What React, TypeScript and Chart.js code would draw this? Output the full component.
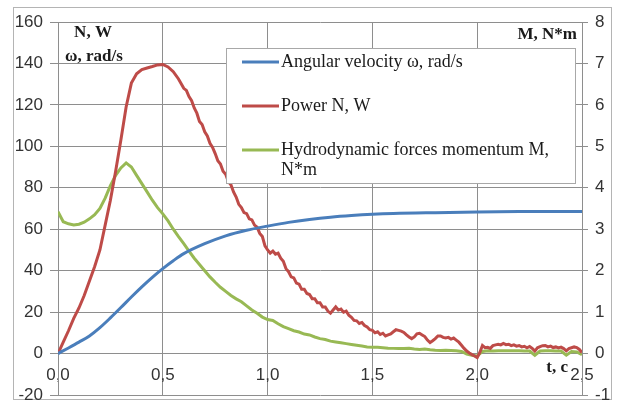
import React, { useEffect, useRef } from "react";
import { Chart, registerables } from "chart.js";
Chart.register(...registerables);

// ---------- data ----------
const xTickLabels = ["0,0", "0,5", "1,0", "1,5", "2,0", "2,5"];

const timeFine = [
  0, 0.025, 0.05, 0.075, 0.1, 0.125, 0.15, 0.175, 0.2, 0.225, 0.25, 0.275, 0.3, 0.325, 0.35, 0.375,
  0.4, 0.425, 0.45, 0.475, 0.5, 0.525, 0.55, 0.575, 0.6, 0.625, 0.65, 0.675, 0.7, 0.725, 0.75, 0.775,
  0.8, 0.825, 0.85, 0.875, 0.9, 0.925, 0.95, 0.975, 1.0, 1.025, 1.05, 1.075, 1.1, 1.125, 1.15, 1.175,
  1.2, 1.225, 1.25, 1.275, 1.3, 1.325, 1.35, 1.375, 1.4, 1.425, 1.45, 1.475, 1.5, 1.525, 1.55, 1.575,
  1.6, 1.625, 1.65, 1.675, 1.7, 1.725, 1.75, 1.775, 1.8, 1.825, 1.85, 1.875, 1.9, 1.925, 1.95, 1.975,
  2.0, 2.025, 2.05, 2.075, 2.1, 2.125, 2.15, 2.175, 2.2, 2.225, 2.25, 2.275, 2.3, 2.325, 2.35, 2.375,
  2.4, 2.425, 2.45, 2.475, 2.5,
];

const timePower = [
  0, 0.025, 0.05, 0.075, 0.1, 0.125, 0.15, 0.175, 0.2, 0.225, 0.25, 0.275, 0.3, 0.325, 0.35, 0.375,
  0.4, 0.425, 0.45, 0.475, 0.5, 0.525, 0.55, 0.575,
  0.6, 0.6125, 0.625, 0.6375, 0.65, 0.6625, 0.675, 0.6875, 0.7, 0.7125, 0.725, 0.7375, 0.75, 0.7625, 0.775, 0.7875,
  0.8, 0.8125, 0.825, 0.8375, 0.85, 0.8625, 0.875, 0.8875, 0.9, 0.9125, 0.925, 0.9375, 0.95, 0.9625, 0.975, 0.9875,
  1.0, 1.0125, 1.025, 1.0375, 1.05, 1.0625, 1.075, 1.0875, 1.1, 1.1125, 1.125, 1.1375, 1.15, 1.1625, 1.175, 1.1875,
  1.2, 1.2125, 1.225, 1.2375, 1.25, 1.2625, 1.275, 1.2875, 1.3, 1.3125, 1.325, 1.3375, 1.35, 1.3625, 1.375, 1.3875,
  1.4, 1.4125, 1.425, 1.4375, 1.45, 1.4625, 1.475, 1.4875, 1.5, 1.5125, 1.525, 1.5375, 1.55, 1.5625, 1.575, 1.5875,
  1.6, 1.6125, 1.625, 1.6375, 1.65, 1.6625, 1.675, 1.6875, 1.7, 1.7125, 1.725, 1.7375, 1.75, 1.7625, 1.775, 1.7875,
  1.8, 1.8125, 1.825, 1.8375, 1.85, 1.8625, 1.875, 1.8875, 1.9, 1.9125, 1.925, 1.9375, 1.95, 1.9625, 1.975, 1.9875,
  2.0, 2.0125, 2.025, 2.0375, 2.05, 2.0625, 2.075, 2.0875, 2.1, 2.1125, 2.125, 2.1375, 2.15, 2.1625, 2.175, 2.1875,
  2.2, 2.2125, 2.225, 2.2375, 2.25, 2.2625, 2.275, 2.2875, 2.3, 2.3125, 2.325, 2.3375, 2.35, 2.3625, 2.375, 2.3875,
  2.4, 2.4125, 2.425, 2.4375, 2.45, 2.4625, 2.475, 2.4875, 2.5,
];

const powerN = [
  0, 5.5, 11, 17, 22, 28, 35, 42, 50, 62, 74, 88, 103, 119, 130.5, 135,
  137, 137.8, 138.5, 139.3, 139.5, 138.3, 136, 132.5,
  128, 127, 124, 122, 118.5, 116, 112, 110.5, 107, 105, 101.5, 99.5, 96.5, 93, 91.5, 88,
  86.5, 83, 81.5, 78, 75.5, 72, 70.5, 68, 67.5, 65, 64.5, 62, 61, 58, 56.5, 52,
  50, 48.5, 49.5, 48, 48.5, 46, 44.5, 41, 39.5, 37, 36.5, 34, 33.5, 31, 31, 29,
  28.5, 26.5, 26.5, 24.5, 24.5, 22.5, 22.5, 20.5, 19.5, 21, 22.5, 21, 21.5, 20, 20.5, 18.5,
  17.5, 16, 15.8, 14.5, 15, 13.5, 12.8, 11.5, 11.2, 10, 10.5, 9.2, 9.8, 8.5, 9, 9.5,
  10.5, 11.5, 11.2, 10.8, 10.2, 9, 8, 7.2, 8, 9.5, 9.8, 9, 8.2, 6.5, 5.3, 6.2,
  7.2, 8.5, 8.5, 7.8, 7.5, 7.8, 7, 7.5, 6.5, 5.5, 4, 2.5, 1.2, 0.3, -0.5, -1.2,
  -2, 0.5, 3.9, 2.8, 3, 2.5, 3.8, 4.2, 4.5, 4.2, 4.9, 4.3, 4.5, 3.8, 4.2, 3.6,
  3.9, 3.2, 3.5, 2.8, 3.4, 2.5, 1.2, 2.8, 3.3, 3.8, 3.9, 3.2, 3.6, 2.9, 3.2, 2.7,
  3.1, 2.4, 1.3, 2.4, 2.8, 3.2, 2.9, 2, 0.5,
];

const momentM = [
  3.42, 3.18, 3.13, 3.1, 3.12, 3.17, 3.25, 3.35, 3.5, 3.75, 4.05, 4.3, 4.48, 4.6, 4.5, 4.3,
  4.1, 3.9, 3.7, 3.52, 3.37, 3.2, 3.0, 2.82, 2.65, 2.47, 2.3, 2.15, 2.0, 1.85, 1.72, 1.6,
  1.5, 1.4, 1.32, 1.25, 1.15, 1.05, 0.97, 0.88, 0.82, 0.8, 0.72, 0.65, 0.6, 0.55, 0.52, 0.47,
  0.45, 0.4, 0.36, 0.34, 0.3, 0.28, 0.26, 0.24, 0.22, 0.2, 0.18, 0.16, 0.15, 0.15, 0.14, 0.13,
  0.125, 0.12, 0.12, 0.125, 0.11, 0.1, 0.11, 0.09, 0.08, 0.075, 0.08, 0.075, 0.07, 0.05, -0.01, -0.04,
  -0.06, 0.05, 0.07, 0.06, 0.07, 0.07, 0.065, 0.07, 0.07, 0.06, 0.06, -0.04, 0.06, 0.07, 0.07, 0.06,
  0.06, -0.04, 0.05, 0.04, -0.03,
];

const timeOmega = [
  0, 0.05, 0.1, 0.15, 0.2, 0.25, 0.3, 0.35, 0.4, 0.45, 0.5, 0.55, 0.6, 0.7, 0.8, 0.9,
  1.0, 1.1, 1.2, 1.3, 1.4, 1.5, 1.6, 1.8, 2.0, 2.2, 2.5,
];
const omega = [
  0, 2.7, 5.5, 8.5, 12.5, 17.2, 22.2, 27.3, 32.2, 36.8, 41, 44.8, 48.2, 53, 56.8, 59.5,
  61.5, 63.3, 64.7, 65.8, 66.6, 67.2, 67.6, 68, 68.3, 68.5, 68.6,
];

const seriesLabels = [
  "Angular velocity \u03c9, rad/s",
  "Power N, W",
  "Hydrodynamic forces momentum M, N*m",
];
const seriesColors = ["#4a7ebb", "#be4b48", "#98b954"];

const GRID = "#8e8e8e";

const decorPlugin = {
  id: "decor",
  beforeDraw(chart: any) {
    const ctx = chart.ctx;
    ctx.save();
    ctx.fillStyle = "#ffffff";
    ctx.fillRect(0, 0, chart.width, chart.height);
    ctx.strokeStyle = "#b4b4b4";
    ctx.lineWidth = 1;
    ctx.strokeRect(13.5, 7.5, 598, 392);
    ctx.restore();
  },
  afterDraw(chart: any) {
    const ctx = chart.ctx;
    const area = chart.chartArea;
    ctx.save();
    // axis titles
    ctx.fillStyle = "#1a1a1a";
    ctx.font = "bold 17px 'Liberation Serif'";
    ctx.textBaseline = "alphabetic";
    ctx.textAlign = "center";
    ctx.fillText("N, W", area.left + 35, area.top + 15);
    ctx.fillText("\u03c9, rad/s", area.left + 36, area.top + 39);
    ctx.textAlign = "right";
    ctx.fillText("M, N*m", area.right - 5, area.top + 17);
    ctx.fillText("t, c", area.right - 14, chart.scales.y.getPixelForValue(0) + 18);

    // legend box
    const bx = 226.5, by = 48.5, bw = 349, bh = 135;
    ctx.fillStyle = "#ffffff";
    ctx.fillRect(bx, by, bw, bh);
    ctx.strokeStyle = "#a8a8a8";
    ctx.lineWidth = 1;
    ctx.strokeRect(bx, by, bw, bh);
    ctx.font = "18px 'Liberation Serif'";
    ctx.textAlign = "left";
    ctx.textBaseline = "middle";
    const rows = [62, 106, 150];
    const textX = 281;
    const maxW = bx + bw - textX - 2;
    chart.data.datasets.forEach((ds: any, i: number) => {
      const y = rows[i];
      ctx.strokeStyle = ds.borderColor;
      ctx.lineWidth = 3;
      ctx.beginPath();
      ctx.moveTo(242, y);
      ctx.lineTo(279, y);
      ctx.stroke();
      ctx.fillStyle = "#1a1a1a";
      const words = String(ds.label).split(" ");
      let line = "";
      let ly = y;
      words.forEach((w: string) => {
        const test = line ? line + " " + w : w;
        if (ctx.measureText(test).width > maxW && line) {
          ctx.fillText(line, textX, ly);
          line = w;
          ly += 20;
        } else {
          line = test;
        }
      });
      if (line) ctx.fillText(line, textX, ly);
    });
    ctx.restore();
  },
};

export default function App() {
  const ref = useRef<HTMLCanvasElement | null>(null);
  useEffect(() => {
    if (!ref.current) return;
    const tickFont = { family: "'Liberation Sans'", size: 17 };
    const chart = new Chart(ref.current, {
      type: "line",
      data: {
        datasets: [
          {
            label: seriesLabels[0],
            data: timeOmega.map((t, i) => ({ x: t, y: omega[i] })),
            borderColor: seriesColors[0],
            borderWidth: 3,
            pointRadius: 0,
            cubicInterpolationMode: "monotone",
            yAxisID: "y",
          },
          {
            label: seriesLabels[1],
            data: timePower.map((t, i) => ({ x: t, y: powerN[i] })),
            borderColor: seriesColors[1],
            borderWidth: 3,
            pointRadius: 0,
            tension: 0,
            yAxisID: "y",
          },
          {
            label: seriesLabels[2],
            data: timeFine.map((t, i) => ({ x: t, y: momentM[i] })),
            borderColor: seriesColors[2],
            borderWidth: 3,
            pointRadius: 0,
            tension: 0,
            yAxisID: "y1",
          },
        ],
      },
      options: {
        responsive: false,
        animation: false,
        layout: { padding: { top: 22, bottom: 11, left: 0, right: 0 } },
        plugins: { legend: { display: false }, tooltip: { enabled: false } },
        scales: {
          x: {
            type: "linear",
            min: 0,
            max: 2.5,
            position: { y: 0 } as any,
            ticks: {
              stepSize: 0.5,
              font: tickFont,
              color: "#333",
              padding: 12,
              callback: (_v: any, i: number) => xTickLabels[i],
            },
            grid: { color: GRID, drawTicks: false },
            border: { color: GRID },
            afterFit: (s: any) => {
              s.paddingLeft = 0;
              s.paddingRight = 0;
              s.paddingTop = 0;
              s.paddingBottom = 0;
            },
          },
          y: {
            position: "left",
            min: -20,
            max: 160,
            ticks: { stepSize: 20, font: tickFont, color: "#333", padding: 7 },
            grid: { color: GRID, tickLength: 8 },
            border: { color: GRID },
            afterFit: (s: any) => {
              s.width = 58;
              s.paddingTop = 0;
              s.paddingBottom = 0;
            },
          },
          y1: {
            position: "right",
            min: -1,
            max: 8,
            ticks: { stepSize: 1, font: tickFont, color: "#333", padding: 7 },
            grid: { drawOnChartArea: false, color: GRID, tickLength: 6 },
            border: { color: GRID },
            afterFit: (s: any) => {
              s.width = 35;
              s.paddingTop = 0;
              s.paddingBottom = 0;
            },
          },
        },
      },
      plugins: [decorPlugin],
    } as any);
    return () => chart.destroy();
  }, []);
  return (
    <div style={{ position: "absolute", left: 0, top: 0, width: 617, height: 406, background: "#fff" }}>
      <canvas ref={ref} width={617} height={406} style={{ display: "block" }} />
    </div>
  );
}
